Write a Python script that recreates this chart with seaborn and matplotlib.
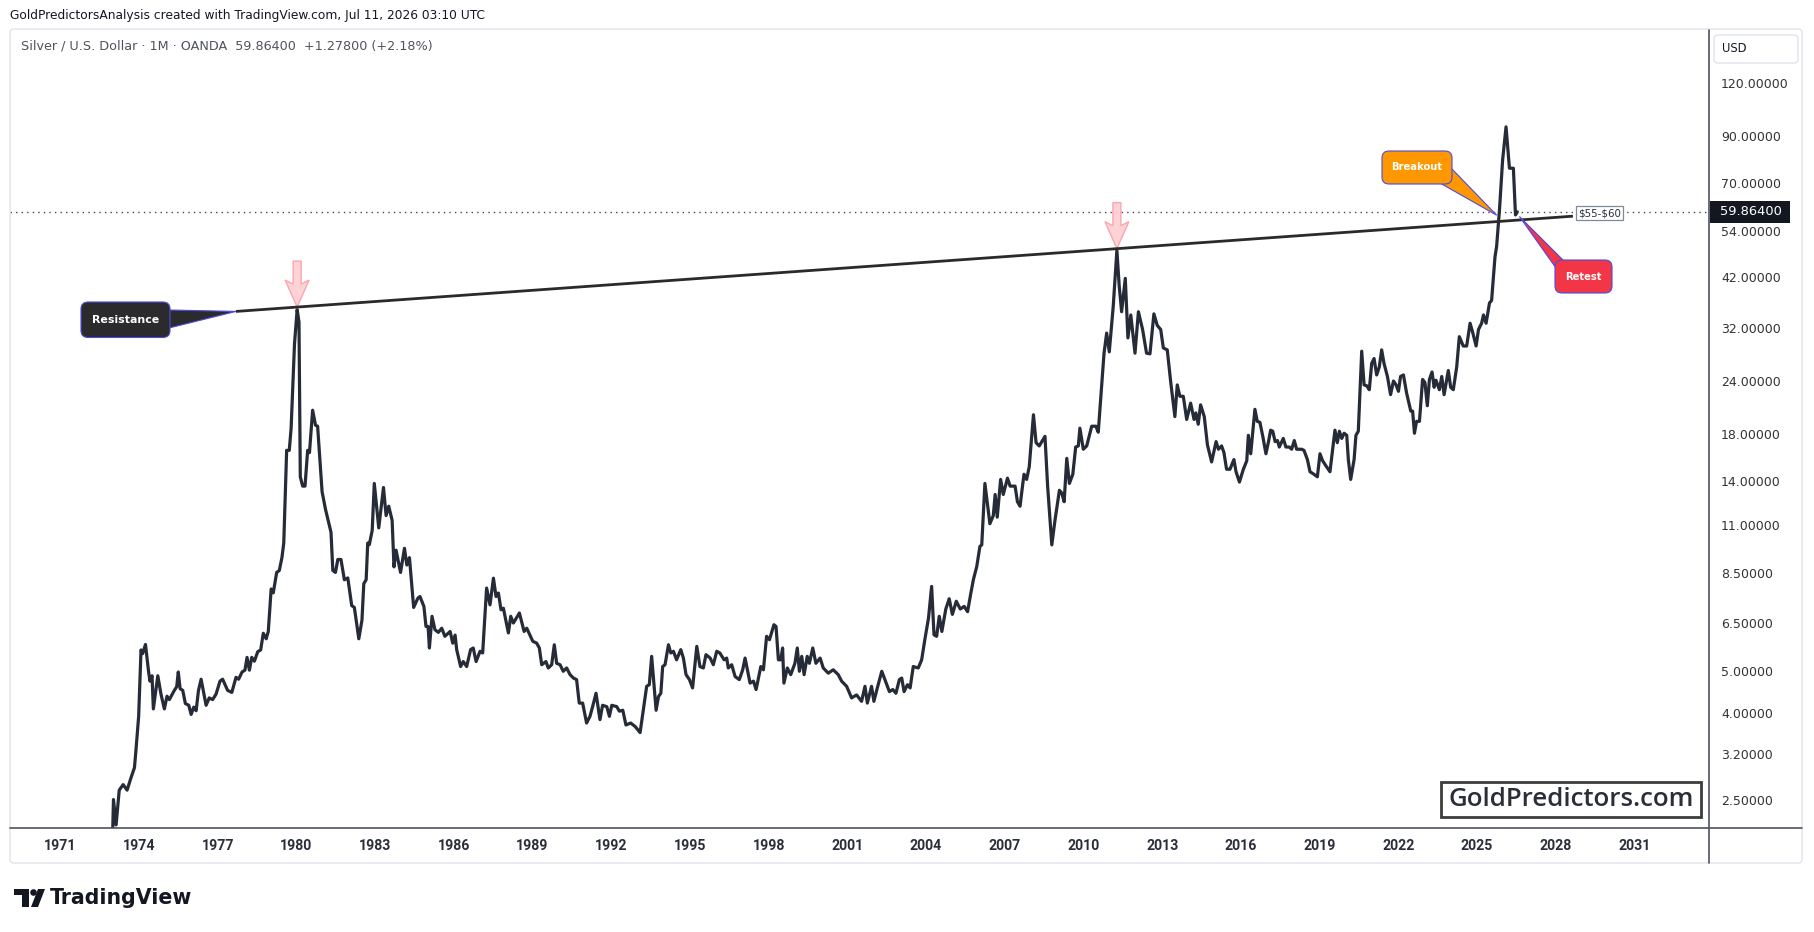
import matplotlib
matplotlib.use("Agg")
import math
import matplotlib.pyplot as plt
import pandas as pd
import seaborn as sns
from matplotlib.patches import Polygon, FancyBboxPatch, Circle
from matplotlib.lines import Line2D
from matplotlib.transforms import IdentityTransform

# Silver monthly closes (decimal year, USD)
years_1973 = [1973.00, 1973.03, 1973.13, 1973.25, 1973.40, 1973.55, 1973.68, 1973.83, 1973.89, 1973.99,
              1974.08, 1974.14, 1974.25, 1974.37, 1974.42, 1974.50, 1974.55, 1974.72, 1974.84, 1974.97,
              1975.07, 1975.16, 1975.35, 1975.44, 1975.50, 1975.57, 1975.67, 1975.77, 1975.90, 1975.99,
              1976.09, 1976.18, 1976.27, 1976.37, 1976.56, 1976.68, 1976.81, 1976.94, 1977.09, 1977.19,
              1977.38, 1977.54, 1977.70, 1977.80, 1977.93, 1978.04, 1978.12, 1978.21, 1978.30, 1978.40,
              1978.53, 1978.64, 1978.74, 1978.85, 1978.93, 1979.04, 1979.12, 1979.25, 1979.35, 1979.45,
              1979.52, 1979.63, 1979.73, 1979.80, 1979.93, 1980.03, 1980.10, 1980.15, 1980.24, 1980.33,
              1980.43, 1980.50, 1980.62, 1980.73, 1980.81, 1980.98, 1981.11, 1981.32, 1981.39, 1981.49,
              1981.58, 1981.70, 1981.83, 1981.96, 1982.11, 1982.21, 1982.38, 1982.50, 1982.57, 1982.66,
              1982.72, 1982.78, 1982.89, 1982.97, 1983.14, 1983.32, 1983.42, 1983.52, 1983.65, 1983.72,
              1983.80, 1983.97, 1984.12, 1984.21, 1984.31, 1984.47, 1984.63]
price_1973 = [2.10, 2.50, 2.18, 2.63, 2.71, 2.63, 2.79, 2.97, 3.28, 3.92,
              5.61, 5.50, 5.78, 4.98, 4.74, 4.88, 4.08, 4.88, 4.42, 4.08,
              4.37, 4.29, 4.51, 4.60, 4.98, 4.55, 4.51, 4.20, 4.16, 3.96,
              4.12, 4.04, 4.51, 4.79, 4.16, 4.33, 4.29, 4.42, 4.74, 4.79,
              4.51, 4.46, 4.84, 4.79, 4.98, 5.03, 5.39, 5.03, 5.39, 5.28,
              5.56, 5.61, 6.14, 5.96, 6.20, 7.80, 7.64, 8.53, 8.62, 9.24,
              10.0, 16.5, 16.5, 18.6, 29.4, 35.3, 33.0, 14.3, 13.6, 13.6,
              16.5, 16.3, 20.5, 18.9, 18.8, 13.2, 12.0, 10.6, 8.62, 8.53,
              9.15, 9.15, 8.20, 8.28, 7.13, 7.06, 5.96, 6.59, 8.03, 8.20,
              10.0, 9.91, 10.7, 13.8, 10.85, 13.5, 11.6, 12.2, 11.3, 8.79,
              9.62, 8.53, 9.72, 8.88, 9.24, 7.06, 7.42]

years_1985 = [1984.71, 1984.86, 1984.94, 1985.02, 1985.07, 1985.17, 1985.28, 1985.41, 1985.54, 1985.66,
              1985.86, 1985.96, 1986.05, 1986.11, 1986.26, 1986.36, 1986.49, 1986.64, 1986.74, 1986.85,
              1987.00, 1987.10, 1987.25, 1987.38, 1987.51, 1987.61, 1987.70, 1987.80, 1987.89, 1988.08,
              1988.17, 1988.27, 1988.50, 1988.68, 1988.78, 1989.01, 1989.16, 1989.26, 1989.35, 1989.51,
              1989.60, 1989.73, 1989.83, 1989.92, 1990.05, 1990.17, 1990.30, 1990.43, 1990.56, 1990.68,
              1990.78, 1990.91, 1991.06, 1991.19, 1991.29, 1991.42, 1991.57, 1991.67, 1991.83, 1991.93,
              1992.02, 1992.21, 1992.31, 1992.44, 1992.56, 1992.74, 1992.91, 1993.10, 1993.22, 1993.35,
              1993.45, 1993.54, 1993.71, 1993.80, 1993.89, 1993.96, 1994.05, 1994.18, 1994.27, 1994.37,
              1994.49, 1994.65, 1994.75, 1994.85, 1994.98, 1995.10, 1995.26, 1995.38, 1995.51, 1995.61,
              1995.77, 1995.89, 1996.02, 1996.14, 1996.30, 1996.40, 1996.46, 1996.59, 1996.72, 1996.88,
              1997.01, 1997.10, 1997.29, 1997.42, 1997.52, 1997.70, 1997.80, 1997.92, 1998.03, 1998.20,
              1998.28, 1998.37, 1998.46, 1998.53, 1998.58, 1998.71, 1998.84, 1999.00, 1999.09, 1999.17,
              1999.26, 1999.35, 1999.47, 1999.55, 1999.68, 1999.80, 1999.96, 2000.08, 2000.27, 2000.46,
              2000.65, 2000.78, 2000.97, 2001.16, 2001.35, 2001.54, 2001.67, 2001.76, 2001.92, 2002.01,
              2002.14, 2002.31, 2002.43, 2002.60, 2002.73, 2002.85, 2002.98, 2003.07, 2003.16, 2003.29,
              2003.39, 2003.51, 2003.70, 2003.83, 2003.96, 2004.09, 2004.21, 2004.30, 2004.40, 2004.50]
price_1985 = [7.49, 7.10, 6.37, 6.37, 5.67, 6.73, 6.26, 6.17, 6.31, 6.04,
              6.20, 5.82, 6.08, 5.62, 5.13, 5.27, 5.13, 5.62, 5.67, 5.27,
              5.57, 5.52, 7.84, 7.16, 8.27, 7.49, 7.63, 6.97, 7.03, 6.15,
              6.73, 6.49, 6.85, 6.20, 6.31, 5.88, 5.82, 5.67, 5.18, 5.27,
              5.09, 5.18, 5.77, 5.22, 5.18, 5.00, 5.09, 4.91, 4.82, 4.78,
              4.21, 4.21, 3.78, 3.92, 4.13, 4.44, 3.85, 4.16, 4.13, 3.92,
              4.16, 4.13, 4.03, 4.05, 3.74, 3.78, 3.71, 3.59, 4.05, 4.61,
              4.65, 5.42, 4.05, 4.36, 4.44, 5.13, 5.18, 5.77, 5.52, 5.57,
              5.32, 5.62, 5.37, 4.91, 4.78, 4.57, 5.72, 5.13, 5.09, 5.47,
              5.37, 5.18, 5.57, 5.52, 5.32, 5.37, 5.09, 5.18, 4.86, 4.78,
              5.04, 5.37, 4.69, 4.74, 4.53, 5.13, 5.04, 6.04, 5.93, 6.43,
              6.37, 5.32, 5.32, 5.67, 4.69, 5.09, 4.91, 5.22, 5.67, 5.00,
              5.42, 4.91, 5.42, 5.22, 5.67, 5.22, 5.37, 5.09, 4.95, 5.04,
              4.91, 4.74, 4.61, 4.33, 4.40, 4.25, 4.61, 4.21, 4.61, 4.25,
              4.57, 5.00, 4.78, 4.48, 4.53, 4.44, 4.78, 4.82, 4.48, 4.65,
              4.57, 5.13, 5.09, 5.32, 5.98, 6.66, 7.91, 6.09, 6.04, 6.73]

years_2005 = [2004.60, 2004.75, 2004.88, 2005.00, 2005.15, 2005.30, 2005.45, 2005.58, 2005.70,
              2005.80, 2005.93, 2006.05, 2006.12, 2006.24, 2006.43, 2006.56, 2006.63, 2006.71, 2006.84,
              2006.94, 2007.10, 2007.20, 2007.39, 2007.48, 2007.58, 2007.64, 2007.73, 2007.83, 2007.93,
              2008.09, 2008.19, 2008.31, 2008.53, 2008.63, 2008.79, 2008.91, 2009.08, 2009.17, 2009.26,
              2009.36, 2009.46, 2009.59, 2009.70, 2009.80, 2009.86, 2009.99, 2010.12, 2010.31, 2010.47,
              2010.56, 2010.65, 2010.78, 2010.88, 2010.98, 2011.13, 2011.27, 2011.36, 2011.45, 2011.59,
              2011.69, 2011.80, 2011.96, 2012.09, 2012.25, 2012.40, 2012.53, 2012.68, 2012.81, 2012.94,
              2013.04, 2013.19, 2013.32, 2013.48, 2013.57, 2013.67, 2013.80, 2013.93, 2014.08, 2014.21,
              2014.28, 2014.37, 2014.46, 2014.60, 2014.72, 2014.88, 2015.05, 2015.14, 2015.26, 2015.35,
              2015.45]
price_2005 = [6.2, 7.0, 7.4, 6.8, 7.3, 7.0, 7.1, 6.9, 7.6,
              8.20, 8.81, 9.82, 9.90, 13.8, 11.1, 11.6, 13.0, 11.5, 14.1,
              13.0, 14.2, 13.6, 13.6, 12.5, 12.2, 13.1, 14.5, 14.1, 15.1,
              20.0, 17.2, 16.9, 17.8, 13.6, 9.90, 11.3, 13.3, 13.1, 12.5,
              15.8, 13.8, 14.5, 16.8, 16.9, 18.6, 16.6, 16.9, 18.8, 18.8,
              18.2, 21.7, 27.9, 31.1, 28.1, 35.9, 48.6, 40.0, 34.9, 41.8,
              30.3, 34.3, 27.9, 34.9, 31.7, 27.9, 27.8, 34.5, 32.4, 31.7,
              28.7, 28.4, 23.9, 19.8, 23.5, 22.1, 22.1, 19.5, 21.3, 19.5,
              20.2, 19.0, 21.1, 19.8, 17.0, 15.5, 17.3, 16.6, 16.9, 16.3,
              14.9]

years_2016 = [2015.58, 2015.73, 2015.81, 2015.94, 2016.09, 2016.22, 2016.28, 2016.37, 2016.53, 2016.62,
              2016.72, 2016.83, 2016.95, 2017.04, 2017.13, 2017.21, 2017.30, 2017.39, 2017.46, 2017.61,
              2017.71, 2017.84, 2017.93, 2018.03, 2018.12, 2018.31, 2018.40, 2018.53, 2018.63, 2018.78,
              2018.91, 2019.01, 2019.11, 2019.26, 2019.39, 2019.58, 2019.67, 2019.75, 2019.84, 2019.93,
              2020.03, 2020.09, 2020.18, 2020.31, 2020.38, 2020.47, 2020.60, 2020.69, 2020.79, 2020.89,
              2020.98, 2021.07, 2021.17, 2021.27, 2021.36, 2021.45, 2021.58, 2021.70, 2021.81, 2021.91,
              2022.00, 2022.08, 2022.19, 2022.31, 2022.47, 2022.54, 2022.61, 2022.69, 2022.80, 2022.92,
              2023.01, 2023.10, 2023.18, 2023.28, 2023.36, 2023.43, 2023.56, 2023.65, 2023.74, 2023.90,
              2023.99, 2024.09, 2024.22, 2024.32, 2024.47, 2024.60, 2024.73, 2024.83, 2024.96, 2025.05,
              2025.17, 2025.24, 2025.34, 2025.47, 2025.55, 2025.68, 2025.74, 2025.85, 2025.97, 2026.10,
              2026.23, 2026.38, 2026.46, 2026.53]
price_2016 = [14.9, 15.7, 14.7, 13.9, 14.9, 15.6, 17.9, 16.2, 20.6, 19.3,
              19.2, 17.8, 16.2, 17.2, 18.4, 18.3, 17.3, 17.4, 16.8, 17.6,
              16.8, 16.8, 16.6, 17.4, 16.6, 16.6, 16.5, 15.7, 14.7, 14.5,
              14.3, 16.2, 15.6, 15.1, 14.7, 18.4, 17.2, 18.3, 17.6, 18.1,
              17.9, 15.7, 14.1, 15.7, 17.9, 18.3, 28.2, 23.5, 23.4, 22.9,
              26.4, 27.1, 24.8, 25.9, 28.4, 26.4, 24.6, 22.3, 24.0, 23.5,
              22.7, 24.6, 24.8, 22.5, 20.4, 20.4, 18.1, 19.3, 19.3, 24.2,
              23.8, 21.0, 24.2, 25.2, 23.2, 24.1, 22.9, 24.6, 22.3, 25.4,
              23.2, 22.9, 25.9, 30.5, 29.0, 29.0, 32.8, 31.2, 29.0, 31.7,
              32.8, 34.3, 32.8, 36.6, 37.1, 47.0, 49.6, 60.5, 79.3, 94.8,
              75.8, 75.8, 58.9, 59.864]

last_price = 59.864
tick_years = list(range(1971, 2032, 3))
price_ticks = [2.5, 3.2, 4, 5, 6.5, 8.5, 11, 14, 18, 24, 32, 42, 54, 70, 90, 120]
resistance_years = [1977.70, 2028.65]
resistance_price = [34.96, 58.5]
peak_years = [1980.03, 2011.27]
breakout_tip = (2025.745, 58.8)
retest_tip = (2026.61, 58.4)

df = pd.concat([pd.DataFrame({"year": y, "price": p}) for y, p in
                [(years_1973, price_1973), (years_1985, price_1985),
                 (years_2005, price_2005), (years_2016, price_2016)]],
               ignore_index=True)

sns.set_style("white")
plt.rcParams["font.family"] = ["DejaVu Sans"]

W, H = 1814, 932
fig = plt.figure(figsize=(W / 100, H / 100), dpi=100)
fig.patch.set_facecolor("white")


def P(x, y):
    # pixel position measured from the top-left corner -> display coords
    return (x, H - y)


ax_l, ax_r, ax_t, ax_b = 10, 1709, 30, 828.3
ax = fig.add_axes([ax_l / W, 1 - ax_b / H, (ax_r - ax_l) / W, (ax_b - ax_t) / H])

sns.lineplot(data=df, x="year", y="price", ax=ax, color="#262b38", linewidth=2.3,
             estimator=None, sort=False, zorder=3)
ax.set_yscale("log")
ax.set_xlim(1969.087, 2033.835)
ax.set_ylim(2.14, 160)
ax.set_xlabel("")
ax.set_ylabel("")
for s in ax.spines.values():
    s.set_visible(False)

ax.set_xticks(tick_years, labels=[str(y) for y in tick_years])
ax.yaxis.tick_right()
ax.set_yticks(price_ticks, labels=[f"{v:.5f}" for v in price_ticks])
ax.minorticks_off()
ax.tick_params(axis="x", length=0, pad=7.4, labelsize=10.2, labelcolor="#2a2e39")
ax.tick_params(axis="y", length=0, pad=8.6, labelsize=9.0, labelcolor="#333333")
for lab in ax.get_xticklabels():
    lab.set_fontfamily("Roboto")
    lab.set_fontweight("bold")

# resistance trend line and current price line
ax.plot(resistance_years, resistance_price, color="#2a2a2a", lw=2.0, zorder=2.5,
        solid_capstyle="butt")
ax.axhline(last_price, color="#434651", lw=1.0, ls=(0, (1, 3)), zorder=2)
ax.annotate(r"\$55-\$60", xy=(resistance_years[-1], resistance_price[-1]),
            xytext=(5, 3), textcoords="offset pixels", ha="left", va="center",
            fontsize=7.4, color="#2a2e39", zorder=6,
            bbox=dict(boxstyle="square,pad=0.18", fc="white", ec="#7d8a99", lw=0.9))


def to_disp(x, y):
    return tuple(ax.transData.transform((x, y)))


def res_at(year):
    t = (year - resistance_years[0]) / (resistance_years[1] - resistance_years[0])
    l0, l1 = math.log(resistance_price[0]), math.log(resistance_price[1])
    return math.exp(l0 + t * (l1 - l0))


# pink arrows above the two peaks
for yr in peak_years:
    tx, ty = to_disp(yr, res_at(yr))
    w, h, L, Hh = 4.0, 12, 46, 27
    pts = [(tx, ty), (tx - h, ty + Hh), (tx - w, ty + Hh - 4), (tx - w, ty + L),
           (tx + w, ty + L), (tx + w, ty + Hh - 4), (tx + h, ty + Hh)]
    ax.add_patch(Polygon(pts, closed=True, fc="#ffcdd2", ec="#f7a1a9", lw=1.0,
                         alpha=0.9, transform=IdentityTransform(), zorder=2.2))


def callout(box, base, tip, color, text, fs):
    x0, y0, x1, y1 = box
    bx, by = P(x0, y1)
    ax.add_patch(Polygon([P(*base[0]), tip, P(*base[1])], closed=True, fc=color,
                         ec="#4b4be0", lw=0.8, transform=IdentityTransform(), zorder=5))
    ax.add_patch(FancyBboxPatch((bx, by), x1 - x0, y1 - y0,
                                boxstyle="round,pad=0,rounding_size=7", fc=color,
                                ec="#4b4be0", lw=0.8, transform=IdentityTransform(), zorder=5.1))
    cx, cy = P((x0 + x1) / 2, (y0 + y1) / 2)
    ax.text(cx, cy, text, transform=IdentityTransform(), ha="center", va="center",
            color="white", fontsize=fs, fontweight="bold", zorder=6)


callout((81, 302, 170, 337.5), [(169, 310), (169, 328)],
        to_disp(resistance_years[0], resistance_price[0]), "#2b2b2e", "Resistance", 7.9)
callout((1382, 151, 1452, 184), [(1440, 183), (1451, 168)],
        to_disp(*breakout_tip), "#ff9800", "Breakout", 7.2)
callout((1555, 260, 1612, 293), [(1564, 261), (1556, 268)],
        to_disp(*retest_tip), "#f23645", "Retest", 7.2)

# watermark
ax.add_patch(FancyBboxPatch(P(1441, 817), 260, 35, boxstyle="square,pad=0", fc="white",
                            ec="#3c3c3c", lw=2.0, transform=IdentityTransform(), zorder=6))
ax.text(*P(1571, 800), "GoldPredictors.com", transform=IdentityTransform(), ha="center",
        va="center", fontsize=18.6, color="#2a2e39", fontfamily="Open Sans",
        fontweight="semibold", zorder=7)

# frame, axis lines and price scale decorations
fig.add_artist(FancyBboxPatch(P(10, 863), 1792, 834, boxstyle="round,pad=0,rounding_size=4",
                              fc="none", ec="#e0e3eb", lw=1.0, transform=IdentityTransform()))
fig.add_artist(Line2D([10, 1802], [H - ax_b, H - ax_b], color="#50535e", lw=1.2,
                      transform=IdentityTransform()))
fig.add_artist(Line2D([ax_r, ax_r], [H - 30, H - 863], color="#50535e", lw=1.2,
                      transform=IdentityTransform()))
fig.add_artist(FancyBboxPatch(P(1714, 63), 84, 28, boxstyle="round,pad=0,rounding_size=4",
                              fc="white", ec="#e0e3eb", lw=1.0, transform=IdentityTransform()))
fig.text(*P(1722, 49), "USD", transform=IdentityTransform(), ha="left", va="center",
         fontsize=8.3, color="#131722")

py = to_disp(1970, last_price)[1]
fig.add_artist(FancyBboxPatch((1710, py - 11), 80, 22, boxstyle="square,pad=0", fc="#131722",
                              ec="none", transform=IdentityTransform(), zorder=5))
fig.text(1720, py, f"{last_price:.5f}", transform=IdentityTransform(), ha="left",
         va="center", fontsize=9.4, color="white", zorder=6)

# header texts
fig.text(*P(10, 16), "GoldPredictorsAnalysis created with TradingView.com, Jul 11, 2026 03:10 UTC",
         transform=IdentityTransform(), ha="left", va="center", fontsize=8.8,
         color="#131722", fontfamily="DejaVu Sans")
fig.text(*P(21, 46), "Silver / U.S. Dollar \u00b7 1M \u00b7 OANDA  59.86400  +1.27800 (+2.18%)",
         transform=IdentityTransform(), ha="left", va="center", fontsize=9.2,
         color="#50535e", fontfamily="DejaVu Sans")

# TradingView logo
fig.add_artist(Polygon([P(14, 889), P(29, 889), P(29, 907), P(22, 907), P(22, 895), P(14, 895)],
                       closed=True, fc="#131722", ec="none", transform=IdentityTransform()))
fig.add_artist(Circle(P(33.5, 892.5), 3.3, fc="#131722", ec="none", transform=IdentityTransform()))
fig.add_artist(Polygon([P(38, 889), P(45, 889), P(38, 907), P(31, 907)], closed=True,
                       fc="#131722", ec="none", transform=IdentityTransform()))
fig.text(*P(50, 898), "TradingView", transform=IdentityTransform(), ha="left", va="center",
         fontsize=14.8, color="#131722", fontweight="bold")

fig.savefig("out.png", dpi=100)
